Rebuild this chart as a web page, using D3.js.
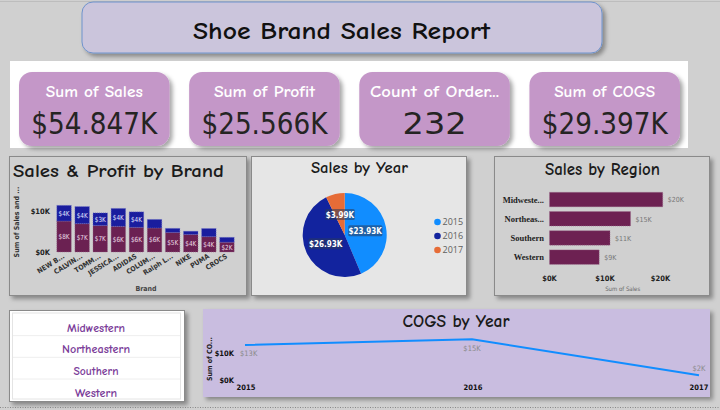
<!DOCTYPE html>
<html><head><meta charset="utf-8">
<script src="https://cdn.jsdelivr.net/npm/d3@7"></script>
<style>
html,body{margin:0;padding:0;background:#d0d0d0;}
svg{display:block;}
</style></head>
<body>
<svg id="c" width="720" height="410"></svg>
<script>
// ---------- data ----------
const kpiLabels = ["Sum of Sales", "Sum of Profit", "Count of Order...", "Sum of COGS"];
const kpiValues = ["$54.847K", "$25.566K", "232", "$29.397K"];

const brands = ["NEW BALANCE", "CALVIN KLEIN", "TOMMY HILFIGER", "JESSICA SIMPSON", "ADIDAS", "COLUMBIA", "Ralph Lauren", "NIKE", "PUMA", "CROCS"];
const brandTicks = ["NEW B...", "CALVIN...", "TOMM...", "JESSICA...", "ADIDAS", "COLUM...", "Ralph L...", "NIKE", "PUMA", "CROCS"];
const brandSales = [7.6, 6.96, 6.5, 6.3, 6.06, 5.9, 4.8, 4.3, 3.77, 2.4];   // $K
const brandProfit = [3.85, 4.2, 3.1, 4.4, 3.8, 2.1, 1.0, 0.8, 2.0, 1.2]; // $K
const brandYTicks = [0, 10];

const years = ["2015", "2016", "2017"];
const yearSales = [23.93, 26.93, 3.99]; // $K

const regions = ["Midwestern", "Northeastern", "Southern", "Western"];
const regionTicks = ["Midweste...", "Northeas...", "Southern", "Western"];
const regionSales = [20.4, 14.6, 10.9, 8.95]; // $K
const regionXTicks = [0, 10, 20];

const cogsYears = ["2015", "2016", "2017"];
const cogsValues = [12.8, 14.9, 1.7]; // $K
const cogsYTicks = [0, 10];

// ---------- helpers ----------
const TITLE_FONT = "'Comic Sans MS','Comic Neue','Lato','DejaVu Sans',sans-serif";
const svg = d3.select("#c");
const defs = svg.append("defs");
const f = defs.append("filter").attr("id","sh").attr("x","-10%").attr("y","-10%").attr("width","130%").attr("height","140%");
f.append("feDropShadow").attr("dx",3).attr("dy",3).attr("stdDeviation",2).attr("flood-color","#000").attr("flood-opacity",0.35);

const fmtK = v => "$" + d3.format(".0f")(v) + "K";

// top thin line
svg.append("line").attr("x1",0).attr("x2",720).attr("y1",1.5).attr("y2",1.5).attr("stroke","#bdbdbd");

// ---------- title ----------
svg.append("rect").attr("x",82).attr("y",2).attr("width",520).attr("height",51).attr("rx",11)
  .attr("fill","#cbc5dc").attr("stroke","#6f93cc").attr("stroke-width",1).attr("filter","url(#sh)");
svg.append("text").attr("x",341.5).attr("y",39).attr("text-anchor","middle")
  .attr("font-family",TITLE_FONT).attr("font-size",25).attr("font-weight","900").attr("fill","#111")
  .attr("textLength",297).attr("lengthAdjust","spacingAndGlyphs").text("Shoe Brand Sales Report");

// ---------- KPI cards ----------
svg.append("rect").attr("x",10).attr("y",61).attr("width",678).attr("height",87).attr("fill","#fff");
const cardX = d3.scaleBand().domain(kpiLabels).range([19, 680]).paddingInner(0.115);
const vW = [126, 126, 64, 126];
const lW = [97, 101, 129, 101];
kpiLabels.forEach((l,i)=>{
  const x = cardX(l), w = cardX.bandwidth();
  svg.append("rect").attr("x",x).attr("y",72).attr("width",w).attr("height",74).attr("rx",13)
    .attr("fill","#c497c8").attr("filter","url(#sh)");
  svg.append("text").attr("x",x+w/2).attr("y",97).attr("text-anchor","middle")
    .attr("font-family",TITLE_FONT).attr("font-size",15).attr("font-weight","bold").attr("fill","#fff")
    .attr("textLength",lW[i]).attr("lengthAdjust","spacingAndGlyphs").text(l);
  svg.append("text").attr("x",x+w/2).attr("y",134).attr("text-anchor","middle")
    .attr("font-family","'DejaVu Sans Condensed','DejaVu Sans',sans-serif").attr("font-size",31).attr("fill","#252423")
    .attr("textLength",vW[i]).attr("lengthAdjust","spacingAndGlyphs").text(kpiValues[i]);
});

// ---------- panel helper ----------
function panel(x,y,w,h,fill){
  svg.append("rect").attr("x",x).attr("y",y).attr("width",w).attr("height",h)
    .attr("fill",fill).attr("stroke","#8a8a8a").attr("stroke-width",1).attr("filter","url(#sh)");
}
function ptitle(x,y,size,len,txt,anchor){
  svg.append("text").attr("x",x).attr("y",y).attr("text-anchor",anchor||"middle")
    .attr("font-family",TITLE_FONT).attr("font-size",size).attr("font-weight","bold").attr("fill","#1b1b1b")
    .attr("textLength",len).attr("lengthAdjust","spacingAndGlyphs").text(txt);
}

// ---------- Sales & Profit by Brand ----------
panel(9.5,156.5,237,139,"#d0d0d0");
ptitle(13,176.5,19,211,"Sales & Profit by Brand","start");
const bx = d3.scaleBand().domain(brands).range([55,236]).paddingInner(0.2).paddingOuter(0.1);
const by = d3.scaleLinear().domain([0,10]).range([252,211.3]);
const g1 = svg.append("g");
brands.forEach((b,i)=>{
  const s = brandSales[i], p = brandProfit[i];
  g1.append("rect").attr("x",bx(b)).attr("y",by(s)).attr("width",bx.bandwidth()).attr("height",by(0)-by(s))
    .attr("fill","#6b2152").attr("stroke","#9a6a8c").attr("stroke-width",0.6).attr("stroke-dasharray","1,1");
  g1.append("rect").attr("x",bx(b)).attr("y",by(s+p)).attr("width",bx.bandwidth()).attr("height",by(s)-by(s+p))
    .attr("fill","#1a1d9e").attr("stroke","#6a6ccc").attr("stroke-width",0.6).attr("stroke-dasharray","1,1");
  const cx = bx(b)+bx.bandwidth()/2;
  g1.append("text").attr("x",cx).attr("y",(by(0)+by(s))/2+2.5).attr("text-anchor","middle")
    .attr("font-family","'DejaVu Sans Condensed',sans-serif").attr("font-size",7)
    .attr("fill","#ecdce6").attr("textLength",11).attr("lengthAdjust","spacingAndGlyphs").text(fmtK(s));
  if (by(s)-by(s+p) > 11) {
    g1.append("text").attr("x",cx).attr("y",(by(s)+by(s+p))/2+2.5).attr("text-anchor","middle")
      .attr("font-family","'DejaVu Sans Condensed',sans-serif").attr("font-size",7)
      .attr("fill","#e4e4ff").attr("textLength",11).attr("lengthAdjust","spacingAndGlyphs").text(fmtK(p));
  }
  g1.append("text").attr("transform",`translate(${cx+1},${257.5}) rotate(-32)`).attr("text-anchor","end")
    .attr("font-family","'DejaVu Sans Condensed',sans-serif").attr("font-size",7).attr("font-weight","bold")
    .attr("fill","#333").text(brandTicks[i]);
});
brandYTicks.forEach(t=>{
  g1.append("text").attr("x",50).attr("y",by(t)+3).attr("text-anchor","end")
    .attr("font-family","'DejaVu Sans Condensed',sans-serif").attr("font-size",7.5).attr("font-weight","bold")
    .attr("fill","#222").text(fmtK(t));
});
g1.append("text").attr("transform","translate(18.5,222) rotate(-90)").attr("text-anchor","middle")
  .attr("font-family","'DejaVu Sans Condensed',sans-serif").attr("font-size",7).attr("font-weight","bold")
  .attr("fill","#333").text("Sum of Sales and ...");
g1.append("text").attr("x",146).attr("y",290.5).attr("text-anchor","middle")
  .attr("font-family","'DejaVu Sans Condensed',sans-serif").attr("font-size",7).attr("font-weight","bold")
  .attr("fill","#444").text("Brand");

// ---------- Sales by Year ----------
panel(251.5,156.5,215,139,"#e6e6e6");
ptitle(359.5,172.5,15.5,97,"Sales by Year");
const pieColors = d3.scaleOrdinal().domain(years).range(["#118dff","#12239e","#e66c37"]);
const pie = d3.pie().sort(null).value(d=>d.v);
const pieData = pie(years.map((y,i)=>({k:y,v:yearSales[i]})));
const arc = d3.arc().innerRadius(0).outerRadius(42);
const gp = svg.append("g").attr("transform","translate(344.7,235)");
gp.selectAll("path").data(pieData).join("path").attr("d",arc).attr("fill",d=>pieColors(d.data.k));
pieData.forEach(d=>{
  const [cx,cy] = arc.centroid(d);
  const t = "$" + d3.format(".2f")(d.data.v) + "K";
  const tw = t.length*4.6+2;
  gp.append("rect").attr("x",cx-tw/2).attr("y",cy-5.5).attr("width",tw).attr("height",11).attr("rx",1.5)
    .attr("fill","#2a3a5a").attr("opacity",0.55);
  gp.append("text").attr("x",cx).attr("y",cy+3).attr("text-anchor","middle")
    .attr("font-family","'DejaVu Sans Condensed',sans-serif").attr("font-size",8).attr("font-weight","bold")
    .attr("fill","#fff").text(t);
});
const ly = d3.scalePoint().domain(years).range([222,250]);
years.forEach(y=>{
  svg.append("circle").attr("cx",437.5).attr("cy",ly(y)).attr("r",3.3).attr("fill",pieColors(y));
  svg.append("text").attr("x",442.5).attr("y",ly(y)+3.2).attr("font-family","'Segoe UI','Open Sans',sans-serif")
    .attr("font-size",9).attr("fill","#605e5c").text(y);
});

// ---------- Sales by Region ----------
panel(494.5,156.5,215,139,"#d0d0d0");
ptitle(602.5,175,18,115,"Sales by Region");
const ry = d3.scaleBand().domain(regions).range([190,266.7]).paddingInner(0.245).paddingOuter(0.12);
const rx = d3.scaleLinear().domain([0,20]).range([549.5,660.5]);
regions.forEach((r,i)=>{
  svg.append("rect").attr("x",rx(0)).attr("y",ry(r)).attr("width",rx(regionSales[i])-rx(0)).attr("height",ry.bandwidth())
    .attr("fill","#6d2152").attr("stroke","#9a6a8c").attr("stroke-width",0.6).attr("stroke-dasharray","1,1");
  svg.append("text").attr("x",544).attr("y",ry(r)+ry.bandwidth()/2+3).attr("text-anchor","end")
    .attr("font-family","'Liberation Serif','DejaVu Serif',serif").attr("font-size",8.5).attr("font-weight","bold")
    .attr("fill","#222").text(regionTicks[i]);
  svg.append("text").attr("x",rx(regionSales[i])+5).attr("y",ry(r)+ry.bandwidth()/2+2.8)
    .attr("font-family","'DejaVu Sans Condensed',sans-serif").attr("font-size",7).attr("fill","#777").text(fmtK(regionSales[i]));
});
regionXTicks.forEach(t=>{
  svg.append("text").attr("x",rx(t)).attr("y",281).attr("text-anchor","middle")
    .attr("font-family","'DejaVu Sans Condensed',sans-serif").attr("font-size",7.5).attr("font-weight","bold")
    .attr("fill","#222").text(fmtK(t));
});
svg.append("text").attr("x",622.7).attr("y",291).attr("text-anchor","middle")
  .attr("font-family","'DejaVu Sans Condensed',sans-serif").attr("font-size",6).attr("fill","#666").text("Sum of Sales");

// ---------- Region slicer ----------
svg.append("rect").attr("x",9.5).attr("y",310.5).attr("width",175).attr("height",91)
  .attr("fill","#fff").attr("stroke","#8a8a8a").attr("filter","url(#sh)");
svg.append("rect").attr("x",12.5).attr("y",313).attr("width",168).attr("height",86)
  .attr("fill","none").attr("stroke","#e4e4e4");
const sy = d3.scalePoint().domain(regions).range([328,393]);
const slW = [58, 68, 45, 42];
regions.forEach((r,i)=>{
  if (i>0) svg.append("line").attr("x1",13).attr("x2",180).attr("y1",sy(r)-14).attr("y2",sy(r)-14).attr("stroke","#eeeeee");
  svg.append("text").attr("x",96).attr("y",sy(r)+3.5).attr("text-anchor","middle")
    .attr("font-family",TITLE_FONT).attr("font-size",11).attr("font-weight","900").attr("fill","#7b3d99")
    .attr("textLength",slW[i]).attr("lengthAdjust","spacingAndGlyphs").text(r);
});

// ---------- COGS by Year ----------
svg.append("rect").attr("x",203).attr("y",309).attr("width",507).attr("height",88)
  .attr("fill","#c9bde0").attr("filter","url(#sh)");
ptitle(456,327,17,107,"COGS by Year");
const cx2 = d3.scalePoint().domain(cogsYears).range([245,699]);
const cy2 = d3.scaleLinear().domain([0,10]).range([380,352.7]);
const line = d3.line().x((d,i)=>cx2(cogsYears[i])).y(d=>cy2(d));
svg.append("path").datum(cogsValues).attr("d",line).attr("fill","none").attr("stroke","#118dff").attr("stroke-width",2);
const lblPos = [{dx:-5,dy:8,a:"start"},{dx:0,dy:9.5,a:"middle"},{dx:0,dy:-7,a:"middle"}];
cogsValues.forEach((v,i)=>{
  const p = lblPos[i];
  svg.append("text").attr("x",cx2(cogsYears[i])+p.dx).attr("y",cy2(v)+p.dy+2.5).attr("text-anchor",p.a)
    .attr("font-family","'DejaVu Sans Condensed',sans-serif").attr("font-size",7.5).attr("fill","#8a8a8a").text(fmtK(v));
});
cogsYears.forEach((y,i)=>{
  svg.append("text").attr("x",cx2(y)+(i===2?0:1)).attr("y",390).attr("text-anchor","middle")
    .attr("font-family","'DejaVu Sans Condensed',sans-serif").attr("font-size",7.5).attr("font-weight","bold")
    .attr("fill","#111").text(y);
});
cogsYTicks.forEach(t=>{
  svg.append("text").attr("x",234).attr("y",cy2(t)+3).attr("text-anchor","end")
    .attr("font-family","'DejaVu Sans Condensed',sans-serif").attr("font-size",7.5).attr("font-weight","bold")
    .attr("fill","#111").text(fmtK(t));
});
svg.append("text").attr("transform","translate(211.5,359) rotate(-90)").attr("text-anchor","middle")
  .attr("font-family","'DejaVu Sans Condensed',sans-serif").attr("font-size",7).attr("font-weight","bold")
  .attr("fill","#222").text("Sum of CO...");

// bottom dotted line
svg.append("line").attr("x1",0).attr("x2",720).attr("y1",407.5).attr("y2",407.5)
  .attr("stroke","#888").attr("stroke-dasharray","1,1.5");
</script>
</body></html>
